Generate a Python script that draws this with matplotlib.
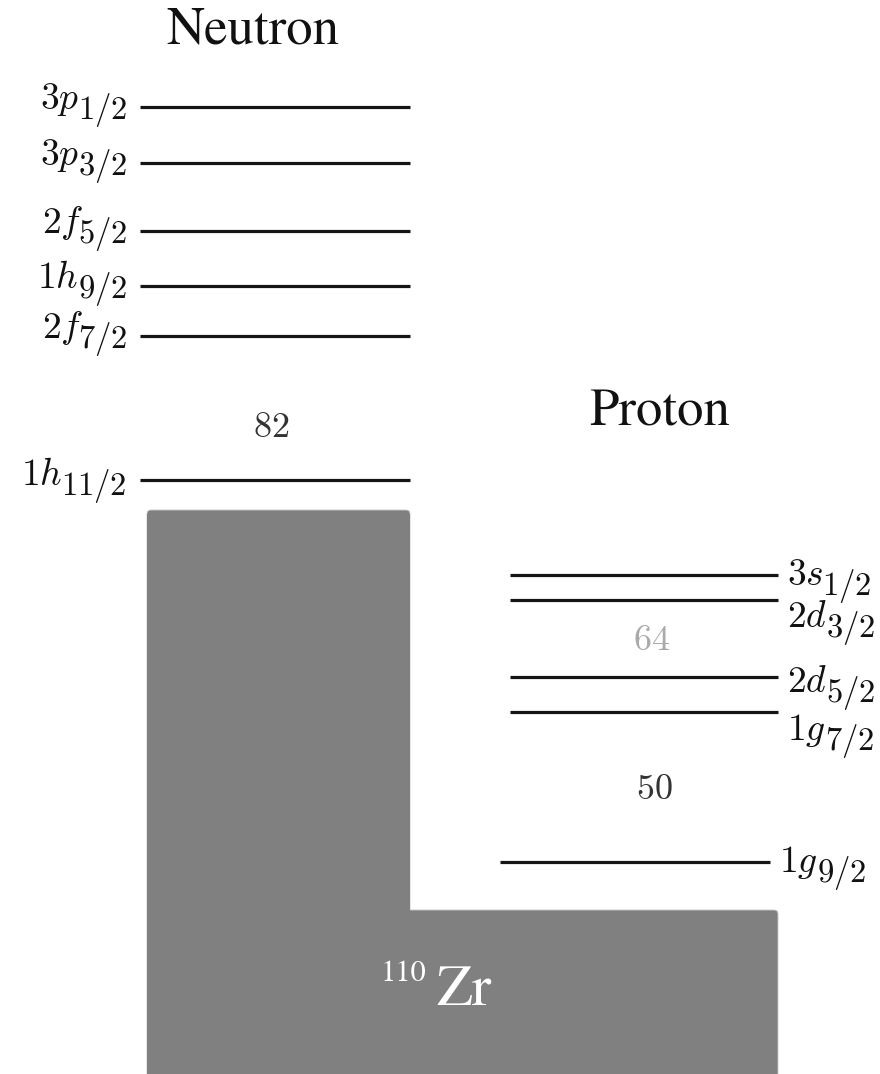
import matplotlib
matplotlib.use("Agg")
import matplotlib.pyplot as plt
from matplotlib.patches import FancyBboxPatch

# ---- data (energy in arbitrary units, higher = less bound) ----
neutron_orbit = ["3p", "3p", "2f", "1h", "2f", "1h"]
neutron_j = ["1/2", "3/2", "5/2", "9/2", "7/2", "11/2"]
neutron_energy = [967, 911, 843, 788, 738, 594]
proton_orbit = ["3s", "2d", "2d", "1g", "1g"]
proton_j = ["1/2", "3/2", "5/2", "7/2", "9/2"]
proton_energy = [499, 474, 397, 362, 212]
gap_labels = ["82", "64", "50"]
gap_energy = [647, 434, 285]
fermi_neutron = 564
fermi_proton = 164
mass_number = "110"
element = "Zr"

W, H = 880, 1074
fig = plt.figure(figsize=(W / 100, H / 100), dpi=100)
ax = fig.add_axes([0, 0, 1, 1])
ax.set_xlim(0, W)
ax.set_ylim(0, H)
ax.axis("off")
renderer = fig.canvas.get_renderer()
inv = ax.transData.inverted()

MAIN_FS = 27
SUB_FS = 23.5
SUB_DROP = 10
TXT = "#111111"
KERN = {"f": 5}


def ext(t):
    bb = t.get_window_extent(renderer=renderer)
    (x0, y0), (x1, y1) = inv.transform([(bb.x0, bb.y0), (bb.x1, bb.y1)])
    return x0, x1


def label_right(x, yb, orbit, j):
    s = ax.text(x, yb - SUB_DROP, "$" + j + "$", ha="right", va="baseline",
                fontsize=SUB_FS, math_fontfamily="cm", color=TXT)
    x0, _ = ext(s)
    ax.text(x0 + 1 + KERN.get(orbit[-1], 0), yb, "$" + orbit + "$", ha="right",
            va="baseline", fontsize=MAIN_FS, math_fontfamily="cm", color=TXT)


def label_left(x, yb, orbit, j):
    m = ax.text(x, yb, "$" + orbit + "$", ha="left", va="baseline",
                fontsize=MAIN_FS, math_fontfamily="cm", color=TXT)
    _, x1 = ext(m)
    ax.text(x1 - 1 - KERN.get(orbit[-1], 0), yb - SUB_DROP, "$" + j + "$", ha="left",
            va="baseline", fontsize=SUB_FS, math_fontfamily="cm", color=TXT)


grey = "#808080"
ax.add_patch(FancyBboxPatch((147, -50), 263, fermi_neutron + 50,
                            boxstyle="round,pad=0,rounding_size=4",
                            fc=grey, ec="#c8c8c8", lw=0.6, zorder=1))
ax.add_patch(FancyBboxPatch((400, -50), 378, fermi_proton + 50,
                            boxstyle="round,pad=0,rounding_size=4",
                            fc=grey, ec="#c8c8c8", lw=0.6, zorder=1))
ax.add_patch(FancyBboxPatch((147, -50), 263, fermi_neutron + 50 - 2,
                            boxstyle="round,pad=0,rounding_size=4",
                            fc=grey, ec="none", zorder=1.5))

lw = 2.3
lc = "#151515"
n_base_dy = [-2, -2, -2, -2, -2, -5]
for orb, j, e, dy in zip(neutron_orbit, neutron_j, neutron_energy, n_base_dy):
    ax.plot([140, 410], [e, e], color=lc, lw=lw, solid_capstyle="butt", zorder=2)
    label_right(127, e + dy, orb, j)

p_x0 = [510, 510, 510, 510, 500]
p_x1 = [778, 778, 778, 778, 770]
p_base_dy = [-10, -27, -15, -28, -10]
for orb, j, e, x0, x1, dy in zip(proton_orbit, proton_j, proton_energy, p_x0, p_x1, p_base_dy):
    ax.plot([x0, x1], [e, e], color=lc, lw=lw, solid_capstyle="butt", zorder=2)
    label_left(x1 + 9, e + dy, orb, j)

gap_x = [271, 652, 654]
gap_col = ["#333333", "#aaaaaa", "#333333"]
for lab, e, x, c in zip(gap_labels, gap_energy, gap_x, gap_col):
    ax.text(x, e, "$" + lab + "$", ha="center", va="center", fontsize=26,
            math_fontfamily="cm", color=c)

ax.text(253, 1043, "Neutron", ha="center", va="center", fontsize=38,
        family="STIXGeneral", color=TXT)
ax.text(660, 661, "Proton", ha="center", va="center", fontsize=38,
        family="STIXGeneral", color=TXT)

# nucleus label
ax.text(381, H - 981, mass_number, ha="left", va="baseline", fontsize=22,
        family="STIXGeneral", color="white", zorder=3)
ax.text(436, H - 1005, element, ha="left", va="baseline", fontsize=42,
        family="STIXGeneral", color="white", zorder=3)

fig.savefig("out.png", dpi=100, facecolor="white")
